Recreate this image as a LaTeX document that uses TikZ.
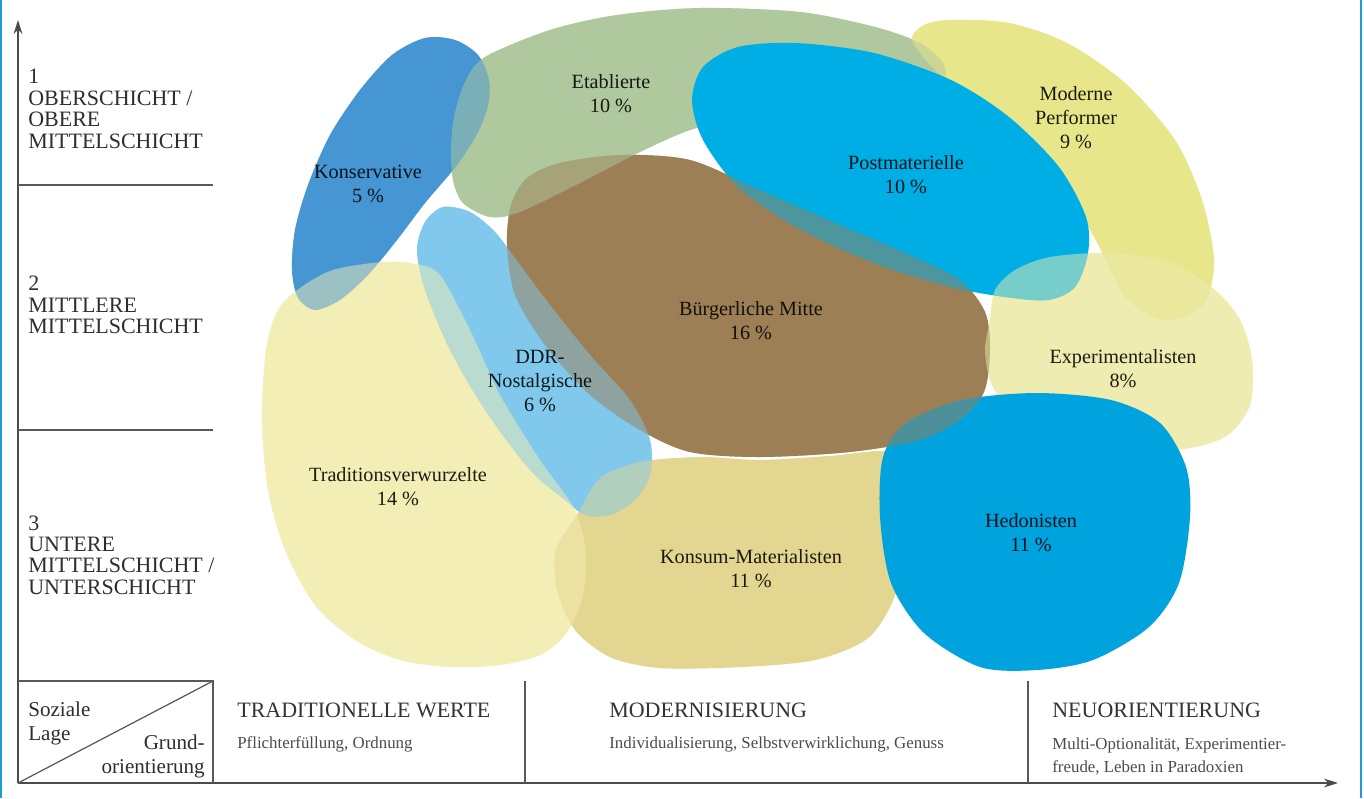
\documentclass[tikz,border=0pt]{standalone}
\usepackage{fontspec}
\setmainfont{Liberation Serif}
\usetikzlibrary{arrows.meta}
\definecolor{cEtab}{HTML}{B0C89E}
\definecolor{cKons}{HTML}{4596D2}
\definecolor{cPost}{HTML}{00AEE6}
\definecolor{cMP}{HTML}{E8E68A}
\definecolor{cBM}{HTML}{9C7F55}
\definecolor{cExp}{HTML}{EEECB0}
\definecolor{cHed}{HTML}{00A3DE}
\definecolor{cKonsum}{HTML}{E3D690}
\definecolor{cTrad}{HTML}{F3EEB5}
\definecolor{cDDR}{HTML}{80C8EC}
\definecolor{cFrame}{HTML}{1E9AD6}
\newcommand\BEtab{plot[smooth cycle] coordinates {(451,150) (454,117) (465,82) (485,57) (550,30) (617,15) (700,8) (800,12) (875,27) (920,43) (943,63) (942,82) (900,95) (820,105) (740,118) (690,130) (640,152) (580,183) (520,212) (490,217) (463,203) (453,180)}}
\newcommand\BKons{plot[smooth cycle] coordinates {(425,38) (455,40) (478,55) (489,80) (488,105) (478,132) (457,165) (425,203) (397,240) (368,275) (340,300) (315,310) (298,298) (292,270) (295,230) (308,185) (330,135) (360,90) (392,55)}}
\newcommand\BPost{plot[smooth cycle] coordinates {(692,100) (703,67) (738,47) (796,43) (874,53) (951,80) (1009,117) (1059,167) (1086,217) (1088,253) (1075,287) (1048,300) (1005,297) (951,287) (874,263) (796,227) (738,187) (703,140)}}
\newcommand\BMP{plot[smooth cycle] coordinates {(951,20) (1009,23) (1067,43) (1125,83) (1175,140) (1202,200) (1214,260) (1206,300) (1183,317) (1156,318) (1125,297) (1106,260) (1090,230) (1059,187) (1017,140) (970,100) (932,67) (912,40) (924,25)}}
\newcommand\BBM{plot[smooth cycle] coordinates {(507,245) (511,205) (527,178) (560,163) (620,155) (690,160) (760,190) (840,225) (910,255) (960,280) (985,312) (990,350) (984,392) (960,420) (920,440) (850,452) (760,457) (690,452) (640,430) (590,395) (545,345) (515,295)}}
\newcommand\BExp{plot[smooth cycle] coordinates {(985,350) (990,320) (995,290) (1015,270) (1050,257) (1110,253) (1170,262) (1215,290) (1240,320) (1252,360) (1250,405) (1228,435) (1190,448) (1140,450) (1080,440) (1020,420) (992,385)}}
\newcommand\BHed{plot[smooth cycle] coordinates {(1037,393) (1111,400) (1160,423) (1186,467) (1190,517) (1179,583) (1149,627) (1093,660) (1037,670) (980,667) (924,633) (891,583) (880,517) (883,457) (906,423) (962,400)}}
\newcommand\BKonsum{plot[smooth cycle] coordinates {(577,515) (600,478) (640,462) (700,457) (760,460) (830,456) (890,452) (905,480) (908,530) (895,595) (868,638) (815,660) (740,667) (660,668) (610,657) (575,630) (557,590) (556,550)}}
\newcommand\BTrad{plot[smooth cycle] coordinates {(262,420) (266,350) (278,310) (300,288) (333,270) (383,262) (415,264) (440,275) (470,330) (500,395) (540,460) (575,510) (586,555) (582,600) (565,635) (540,655) (500,665) (450,667) (400,660) (355,640) (315,605) (285,550) (268,490)}}
\newcommand\BDDR{plot[smooth cycle] coordinates {(443,207) (470,212) (495,232) (520,265) (550,305) (590,355) (630,400) (650,440) (650,475) (635,500) (610,515) (585,515) (565,500) (530,470) (485,410) (450,350) (425,290) (417,250) (425,222)}}
\tikzset{
 blbl/.style={align=center, font=\fontsize{11.5}{13.6}\selectfont, text=black, text opacity=0.88, inner sep=0},
 side/.style={align=left, font=\fontsize{12.5}{12.2}\selectfont, text=black!82, inner sep=0, anchor=west},
 head/.style={font=\fontsize{12.5}{14}\selectfont, text=black!80, inner sep=0, anchor=west},
 sub/.style={align=left, font=\fontsize{9.6}{13.1}\selectfont, text=black!70, inner sep=0, anchor=west},
 corner/.style={font=\fontsize{12}{13.7}\selectfont, text=black!82, inner sep=0},
 axis/.style={draw=black!70, line width=0.8pt, -{Stealth[length=8pt,width=5pt]}},
 sepline/.style={draw=black!65, line width=0.7pt},
 frame/.style={draw=cFrame, line width=1.1pt},
}
\begin{document}
\begin{tikzpicture}[x=0.02cm,y=-0.02cm]
\useasboundingbox (0,0) rectangle (1364,798);
\fill[white] (0,0) rectangle (1364,798);
% pass 1: opaque
\fill[cEtab] \BEtab;
\fill[cMP] \BMP;
\fill[cKons] \BKons;
\fill[cTrad] \BTrad;
\fill[cExp] \BExp;
\fill[cKonsum] \BKonsum;
\fill[cBM] \BBM;
\fill[cDDR] \BDDR;
% pass 2: half-transparent in reverse order -> overlaps become mixes
\begin{scope}[fill opacity=0.5]
\fill[cDDR] \BDDR;
\fill[cBM] \BBM;
\fill[cKonsum] \BKonsum;
\fill[cExp] \BExp;
\fill[cTrad] \BTrad;
\fill[cKons] \BKons;
\fill[cMP] \BMP;
\fill[cEtab] \BEtab;
\end{scope}
% opaque top blobs
\fill[cPost] \BPost;
\fill[cHed] \BHed;
\begin{scope}
\clip \BPost;
\fill[cBM, fill opacity=0.5] \BBM;
\fill[cExp, fill opacity=0.5] \BExp;
\end{scope}
\begin{scope}
\clip \BHed;
\fill[cBM, fill opacity=0.5] \BBM;
\end{scope}
% blob labels
\node[blbl] (lEtab) at (611,94) {Etablierte\\10 \%};
\node[blbl] (lKons) at (368,184) {Konservative\\5 \%};
\node[blbl] (lPost) at (906,175) {Postmaterielle\\10 \%};
\node[blbl] (lMP) at (1076,118) {Moderne\\Performer\\9 \%};
\node[blbl] (lBM) at (751,321) {Bürgerliche Mitte\\16 \%};
\node[blbl] (lExp) at (1123,369) {Experimentalisten\\8\%};
\node[blbl] (lDDR) at (540,381) {DDR-\\Nostalgische\\6 \%};
\node[blbl] (lTrad) at (398,487) {Traditionsverwurzelte\\14 \%};
\node[blbl] (lKonsum) at (751,569) {Konsum-Materialisten\\11 \%};
\node[blbl] (lHed) at (1031,533) {Hedonisten\\11 \%};
% frame edges
\coordinate (fl1) at (1,0); \coordinate (fl2) at (1,798);
\coordinate (fr1) at (1361,0); \coordinate (fr2) at (1361,798);
\draw[frame] (fl1) -- (fl2);
\draw[frame] (fr1) -- (fr2);
% axes
\coordinate (O) at (18,783);
\coordinate (Ytop) at (18,20);
\coordinate (Xend) at (1338,783);
\draw[axis] (O) -- (Ytop);
\draw[axis] (O) -- (Xend);
% separators
\coordinate (s1a) at (18,185); \coordinate (s1b) at (213,185);
\coordinate (s2a) at (18,430); \coordinate (s2b) at (213,430);
\coordinate (bxa) at (18,681); \coordinate (bxb) at (213,681);
\coordinate (bxc) at (213,783);
\coordinate (d1a) at (525,681); \coordinate (d1b) at (525,783);
\coordinate (d2a) at (1028,681); \coordinate (d2b) at (1028,783);
\draw[sepline] (s1a) -- (s1b);
\draw[sepline] (s2a) -- (s2b);
\draw[sepline] (bxa) -- (bxb) -- (bxc);
\draw[sepline] (O) -- (bxb);
\draw[sepline] (d1a) -- (d1b);
\draw[sepline] (d2a) -- (d2b);
% side labels
\node[side] (t1) at (28,109) {1\\OBERSCHICHT /\\OBERE\\MITTELSCHICHT};
\node[side] (t2) at (28,305) {2\\MITTLERE\\MITTELSCHICHT};
\node[side] (t3) at (28,555) {3\\UNTERE\\MITTELSCHICHT /\\UNTERSCHICHT};
% corner box
\node[corner, align=left, anchor=west] (soz) at (28,723) {Soziale\\Lage};
\node[corner, align=right, anchor=east] (grund) at (205,756) {Grund-\\orientierung};
% column headers
\node[head] (h1) at (237,710) {TRADITIONELLE WERTE};
\node[sub] (u1) at (237,744) {Pflichterfüllung, Ordnung};
\node[head] (h2) at (609,710) {MODERNISIERUNG};
\node[sub] (u2) at (609,744) {Individualisierung, Selbstverwirklichung, Genuss};
\node[head] (h3) at (1052,710) {NEUORIENTIERUNG};
\node[sub] (u3) at (1052,756) {Multi-Optionalität, Experimentier-\\freude, Leben in Paradoxien};
\end{tikzpicture}
\end{document}
